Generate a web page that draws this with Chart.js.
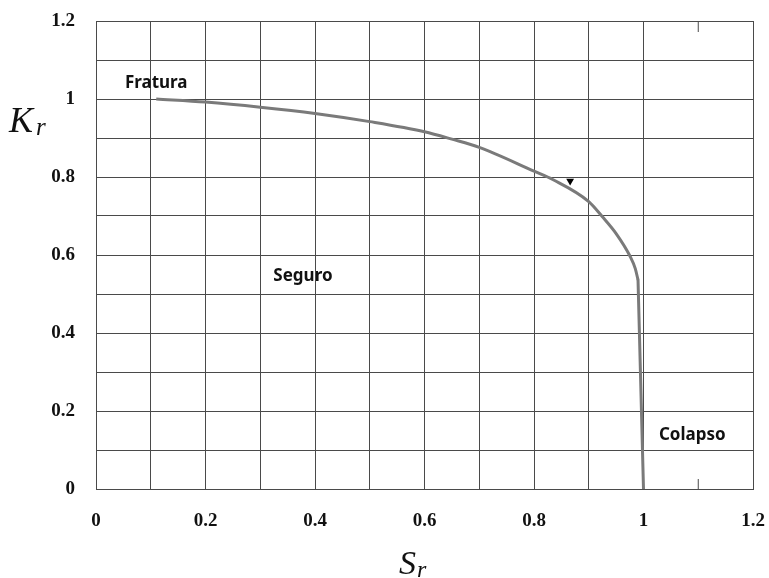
<!DOCTYPE html>
<html>
<head>
<meta charset="utf-8">
<script src="https://cdn.jsdelivr.net/npm/chart.js@4.4.1/dist/chart.umd.min.js"></script>
<style>
  html, body { margin: 0; padding: 0; background: #fff; }
  canvas { display: block; }
</style>
</head>
<body>
<canvas id="chartCanvas" width="769" height="578"></canvas>
<script>
// failure assessment curve (Sr, Kr)
const curveSr = [0.11, 0.2, 0.3, 0.4, 0.5, 0.6, 0.65, 0.7, 0.8, 0.835, 0.9, 0.925, 0.95, 0.975, 0.985, 0.99];
const curveKr = [1.0, 0.992, 0.979, 0.963, 0.942, 0.916, 0.897, 0.876, 0.815, 0.793, 0.737, 0.698, 0.655, 0.598, 0.565, 0.536];

// near-vertical collapse branch
const collapseSr = [0.99, 1.0];
const collapseKr = [0.536, 0];

// small black mark near the curve
const markSr = [0.866];
const markKr = [0.79];

// region labels
const regionNames = ["Fratura", "Seguro", "Colapso"];
const regionSr = [0.11, 0.378, 1.089];
const regionKr = [1.041, 0.546, 0.138];

const axisMin = 0;
const axisMax = 1.2;
const gridStep = 0.1;

const gridColor = "#4a4a4a";
const curveColor = "#7a7a7a";

const textPlugin = {
  id: "texts",
  afterDraw(chart) {
    const { ctx, scales: { x, y }, chartArea } = chart;
    ctx.save();

    // short tick marks at Sr = 1.1 (no full grid line there)
    const x11 = x.getPixelForValue(1.1);
    ctx.strokeStyle = gridColor;
    ctx.lineWidth = 1;
    ctx.beginPath();
    ctx.moveTo(x11, chartArea.top);
    ctx.lineTo(x11, chartArea.top + 11);
    ctx.moveTo(x11, chartArea.bottom);
    ctx.lineTo(x11, chartArea.bottom - 10);
    ctx.stroke();

    // region labels
    ctx.fillStyle = "#111";
    ctx.font = "bold 17px 'Noto Sans'";
    ctx.textAlign = "center";
    ctx.textBaseline = "middle";
    regionNames.forEach((name, i) => {
      ctx.fillText(name, x.getPixelForValue(regionSr[i]), y.getPixelForValue(regionKr[i]));
    });

    // axis titles with subscript
    ctx.textAlign = "left";
    ctx.textBaseline = "alphabetic";
    ctx.font = "italic 36px 'Liberation Serif'";
    ctx.fillText("K", 9, 132);
    ctx.font = "italic 25px 'Liberation Serif'";
    ctx.fillText("r", 36, 135);

    ctx.font = "italic 34px 'Liberation Serif'";
    ctx.fillText("S", 399, 574);
    ctx.font = "italic 24px 'Liberation Serif'";
    ctx.fillText("r", 417, 577);

    ctx.restore();
  }
};

function tickLabel(v) {
  const k = Math.round(v * 10);
  return k % 2 === 0 ? String(k / 10) : "";
}

function gridLineColor(c) {
  return Math.round(c.tick.value * 10) === 11 ? "rgba(0,0,0,0)" : gridColor;
}

function toPoints(xs, ys) {
  return xs.map((s, i) => ({ x: s, y: ys[i] }));
}

const ctx = document.getElementById("chartCanvas").getContext("2d");

new Chart(ctx, {
  type: "scatter",
  data: {
    datasets: [
      {
        label: "curve",
        data: toPoints(curveSr, curveKr),
        showLine: true,
        borderColor: curveColor,
        borderWidth: 3,
        pointRadius: 0,
        cubicInterpolationMode: "monotone",
        fill: false
      },
      {
        label: "collapse",
        data: toPoints(collapseSr, collapseKr),
        showLine: true,
        borderColor: curveColor,
        borderWidth: 3,
        borderCapStyle: "round",
        pointRadius: 0,
        fill: false
      },
      {
        label: "mark",
        data: toPoints(markSr, markKr),
        pointStyle: "triangle",
        rotation: 180,
        pointRadius: 4.5,
        backgroundColor: "#000",
        borderColor: "#000",
        borderWidth: 0
      }
    ]
  },
  options: {
    responsive: false,
    animation: false,
    layout: { padding: { left: 0, top: 21, right: 16, bottom: 0 } },
    plugins: {
      legend: { display: false },
      tooltip: { enabled: false }
    },
    scales: {
      x: {
        type: "linear",
        min: axisMin,
        max: axisMax,
        afterFit: (scale) => {
          scale.height = 89;
          scale.paddingLeft = 0;
          scale.paddingRight = 0;
        },
        ticks: {
          stepSize: gridStep,
          autoSkip: false,
          maxRotation: 0,
          padding: 21,
          color: "#111",
          font: { family: "'Liberation Serif'", size: 19, weight: "bold" },
          callback: tickLabel
        },
        grid: { color: gridLineColor, lineWidth: 1, drawTicks: false },
        border: { display: true, color: gridColor }
      },
      y: {
        type: "linear",
        min: axisMin,
        max: axisMax,
        afterFit: (scale) => {
          scale.width = 96;
          scale.paddingTop = 0;
          scale.paddingBottom = 0;
        },
        ticks: {
          stepSize: gridStep,
          autoSkip: false,
          padding: 21,
          color: "#111",
          font: { family: "'Liberation Serif'", size: 19, weight: "bold" },
          callback: tickLabel
        },
        grid: { color: gridColor, lineWidth: 1, drawTicks: false },
        border: { display: true, color: gridColor }
      }
    }
  },
  plugins: [textPlugin]
});
</script>
</body>
</html>
